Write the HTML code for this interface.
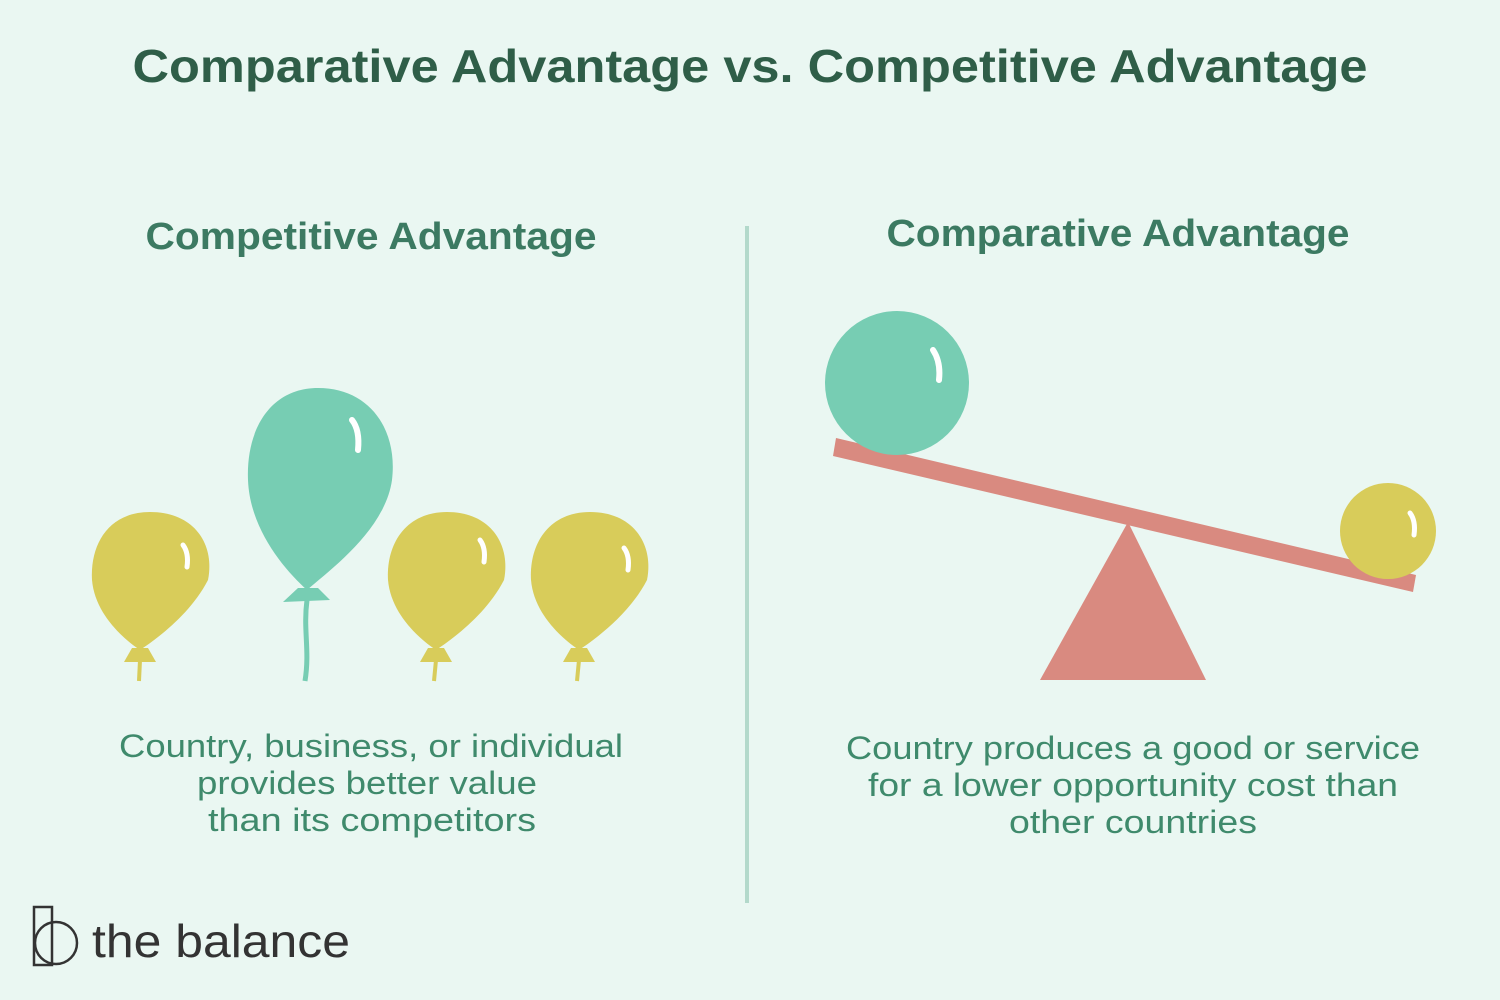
<!DOCTYPE html>
<html><head><meta charset="utf-8"><style>
html,body{margin:0;padding:0;background:#eaf7f2;}
svg{display:block;}
text{font-family:"Liberation Sans",sans-serif;}
</style></head><body>
<svg width="1500" height="1000" viewBox="0 0 1500 1000">
<rect width="1500" height="1000" fill="#eaf7f2"/>
<text x="750" y="82" text-anchor="middle" font-size="46" font-weight="bold" fill="#2f5e48" textLength="1235" lengthAdjust="spacingAndGlyphs">Comparative Advantage vs. Competitive Advantage</text>

<line x1="747" y1="226" x2="747" y2="903" stroke="#b3d9cb" stroke-width="4"/>

<text x="371" y="249" text-anchor="middle" font-size="38" font-weight="bold" fill="#3c7a62" textLength="451" lengthAdjust="spacingAndGlyphs">Competitive Advantage</text>
<text x="1118" y="246" text-anchor="middle" font-size="38" font-weight="bold" fill="#3c7a62" textLength="463" lengthAdjust="spacingAndGlyphs">Comparative Advantage</text>

<g>
  <g>
    <path d="M150 512 C108 512 90 545 92 580 C95 615 125 640 140 650 C155 640 190 615 208 580 C215 545 195 512 150 512 Z" fill="#d8cc5a"/>
    <path d="M132 648 L148 648 L156 662 L124 662 Z" fill="#d8cc5a"/>
    <line x1="140" y1="660" x2="139" y2="681" stroke="#d8cc5a" stroke-width="4"/>
    <path d="M183 545 q6 8 4 22" stroke="#fff" stroke-width="5" fill="none" stroke-linecap="round"/>
  </g>
  <g>
    <path d="M318 388 C270 388 246 430 248 480 C250 530 285 570 307 590 C330 570 385 530 392 480 C398 430 370 388 318 388 Z" fill="#77cdb3"/>
    <path d="M298 588 L318 588 L330 600 L283 602 Z" fill="#77cdb3"/>
    <path d="M307 600 C303 630 310 650 305 681" stroke="#77cdb3" stroke-width="5" fill="none"/>
    <path d="M352 420 q8 10 6 30" stroke="#fff" stroke-width="6" fill="none" stroke-linecap="round"/>
  </g>
  <g>
    <path d="M447 512 C405 512 386 545 388 580 C391 615 421 640 436 650 C451 640 486 615 504 580 C511 545 491 512 447 512 Z" fill="#d8cc5a"/>
    <path d="M428 648 L444 648 L452 662 L420 662 Z" fill="#d8cc5a"/>
    <line x1="436" y1="660" x2="434" y2="681" stroke="#d8cc5a" stroke-width="4"/>
    <path d="M480 540 q6 8 4 22" stroke="#fff" stroke-width="5" fill="none" stroke-linecap="round"/>
  </g>
  <g>
    <path d="M590 512 C548 512 529 545 531 580 C534 615 564 640 579 650 C594 640 629 615 647 580 C654 545 634 512 590 512 Z" fill="#d8cc5a"/>
    <path d="M571 648 L587 648 L595 662 L563 662 Z" fill="#d8cc5a"/>
    <line x1="579" y1="660" x2="577" y2="681" stroke="#d8cc5a" stroke-width="4"/>
    <path d="M624 548 q6 8 4 22" stroke="#fff" stroke-width="5" fill="none" stroke-linecap="round"/>
  </g>
</g>

<g>
  <path d="M1128 522 L1206 680 L1040 680 Z" fill="#d98a80"/>
  <path d="M836 438 L1416 575 L1413 592 L833 456 Z" fill="#d98a80"/>
  <circle cx="897" cy="383" r="72" fill="#77cdb3"/>
  <path d="M933 350 q8 12 6 30" stroke="#fff" stroke-width="6" fill="none" stroke-linecap="round"/>
  <circle cx="1388" cy="531" r="48" fill="#d8cc5a"/>
  <path d="M1410 513 q6 8 4 22" stroke="#fff" stroke-width="5" fill="none" stroke-linecap="round"/>
</g>

<g font-size="32" fill="#3f8a6c" text-anchor="middle">
  <text x="371" y="757" textLength="504" lengthAdjust="spacingAndGlyphs">Country, business, or individual</text>
  <text x="367" y="794" textLength="340" lengthAdjust="spacingAndGlyphs">provides better value</text>
  <text x="372" y="831" textLength="328" lengthAdjust="spacingAndGlyphs">than its competitors</text>
</g>
<g font-size="32" fill="#3f8a6c" text-anchor="middle">
  <text x="1133" y="759" textLength="574" lengthAdjust="spacingAndGlyphs">Country produces a good or service</text>
  <text x="1133" y="796" textLength="530" lengthAdjust="spacingAndGlyphs">for a lower opportunity cost than</text>
  <text x="1133" y="833" textLength="248" lengthAdjust="spacingAndGlyphs">other countries</text>
</g>

<g>
  <rect x="34" y="907" width="18" height="58" fill="none" stroke="#333" stroke-width="2.5"/>
  <circle cx="56" cy="943" r="21" fill="none" stroke="#333" stroke-width="2.5"/>
  <text x="92" y="957" font-size="46" fill="#333" textLength="258" lengthAdjust="spacingAndGlyphs">the balance</text>
</g>
</svg>
</body></html>
